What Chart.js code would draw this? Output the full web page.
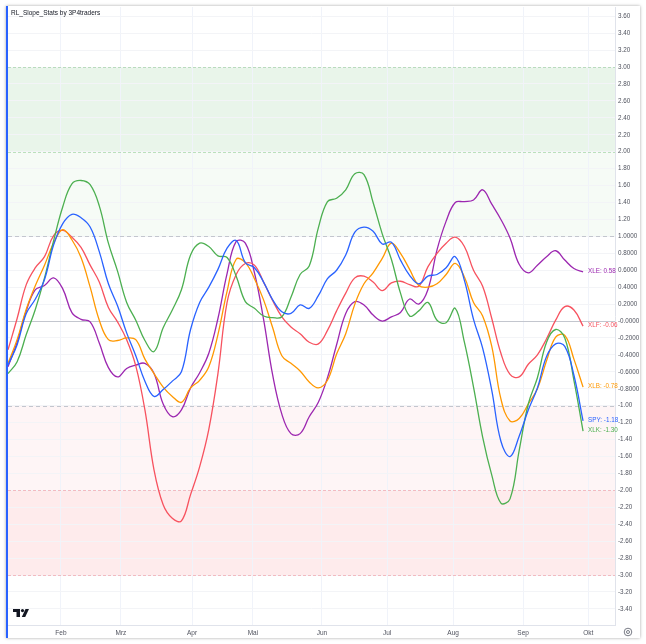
<!DOCTYPE html>
<html>
<head>
<meta charset="utf-8">
<script src="https://cdn.jsdelivr.net/npm/chart.js@4/dist/chart.umd.min.js"></script>
<style>
  body { margin: 0; background: #fff; }
  .caixa {
    position: absolute; left: 6px; top: 6px;
    width: 632px; height: 632px;
    border-left: 2px solid #2962ff;
    box-shadow: 0 0 3px rgba(0,0,0,0.35);
    background: #fff;
  }
</style>
</head>
<body>
<div class="caixa"><canvas id="grafico" width="632" height="632"></canvas></div>
<script>
// -------- DADOS --------

const titulo = "RL_Slope_Stats by 3P4traders";
const tickers = ["SPY", "XLK", "XLB", "XLF", "XLE"];
const cores = ["#2962ff", "#4caf50", "#ff9800", "#f7525f", "#9c27b0"];

// meses (posição em barras)
const meses = ["Feb", "Mrz", "Apr", "Mai", "Jun", "Jul", "Aug", "Sep", "Okt"];
const mesesPos = [17.4, 37.1, 60.5, 80.5, 103.2, 124.6, 146.3, 169.3, 190.7];

// uma amostra a cada 3 barras
const barras = [];
for (let b = 0; b <= 189; b += 3) barras.push(b);

const spy = [-0.52,-0.28,0.09,0.26,0.49,0.90,1.15,1.26,1.22,1.11,0.82,0.44,0.18,-0.14,-0.41,-0.71,
  -0.89,-0.81,-0.71,-0.60,-0.10,0.22,0.40,0.61,0.86,0.95,0.69,0.63,0.46,0.25,0.11,0.09,
  0.19,0.15,0.30,0.50,0.60,0.78,1.05,1.11,1.06,0.91,0.93,0.72,0.54,0.44,0.53,0.55,
  0.63,0.76,0.48,0.02,-0.32,-0.82,-1.42,-1.60,-1.36,-1.05,-0.79,-0.42,-0.27,-0.30,-0.64,-1.18];

const xlk = [-0.62,-0.48,-0.16,0.14,0.51,0.95,1.35,1.62,1.66,1.61,1.36,0.92,0.59,0.22,0.01,-0.23,
  -0.36,-0.08,0.13,0.37,0.78,0.92,0.88,0.77,0.75,0.53,0.23,0.15,0.06,0.04,0.05,0.28,
  0.55,0.65,1.10,1.41,1.45,1.55,1.74,1.73,1.40,1.03,0.73,0.33,0.06,0.12,0.22,0.01,
  -0.02,0.15,-0.25,-0.78,-1.37,-1.82,-2.15,-2.10,-1.53,-0.98,-0.67,-0.25,-0.10,-0.20,-0.70,-1.30];

const xlb = [-0.50,-0.22,0.14,0.42,0.66,0.92,1.08,0.96,0.75,0.40,0.01,-0.22,-0.23,-0.20,-0.22,-0.45,
  -0.62,-0.78,-0.89,-0.96,-0.79,-0.70,-0.54,-0.16,0.35,0.73,0.69,0.50,0.25,-0.08,-0.41,-0.50,
  -0.59,-0.72,-0.79,-0.70,-0.39,-0.15,0.20,0.44,0.57,0.74,0.92,0.80,0.61,0.42,0.40,0.44,
  0.55,0.68,0.52,0.22,0.06,-0.30,-0.92,-1.18,-1.15,-0.98,-0.80,-0.47,-0.19,-0.17,-0.45,-0.78];

const xlf = [-0.34,0.03,0.43,0.63,0.76,1.01,1.07,0.99,0.87,0.66,0.46,0.16,-0.01,-0.22,-0.53,-1.05,
  -1.76,-2.17,-2.33,-2.36,-2.05,-1.72,-1.28,-0.62,0.22,0.55,0.68,0.66,0.46,0.24,0.05,-0.07,
  -0.15,-0.25,-0.27,-0.11,0.12,0.33,0.51,0.53,0.46,0.36,0.45,0.47,0.43,0.41,0.64,0.80,
  0.92,0.99,0.88,0.60,0.41,0.03,-0.38,-0.63,-0.66,-0.51,-0.40,-0.21,0.01,0.17,0.13,-0.06];

const xle = [-0.54,-0.25,0.12,0.37,0.42,0.51,0.38,0.10,0.02,-0.01,-0.26,-0.55,-0.66,-0.56,-0.52,-0.50,
  -0.62,-0.98,-1.13,-1.05,-0.79,-0.61,-0.38,0.03,0.56,0.94,0.92,0.57,0.02,-0.64,-1.10,-1.33,
  -1.33,-1.13,-0.96,-0.67,-0.28,0.09,0.23,0.19,0.07,0.00,0.05,0.10,0.26,0.20,0.37,0.84,
  1.18,1.40,1.41,1.43,1.55,1.38,1.20,0.98,0.67,0.57,0.66,0.76,0.83,0.72,0.62,0.58];

const series = [spy, xlk, xlb, xlf, xle];

// ticks do eixo y
const yTicks = [];
for (let i = 36; i >= -34; i -= 2) yTicks.push(i / 10);

// faixas coloridas e linhas de nível
const faixas = [
  { de: 2, ate: 3, cor: "rgba(76,175,80,0.12)" },
  { de: 1, ate: 2, cor: "rgba(76,175,80,0.05)" },
  { de: -2, ate: -1, cor: "rgba(242,54,69,0.05)" },
  { de: -3, ate: -2, cor: "rgba(242,54,69,0.10)" }
];
const niveis = [
  { v: 3, cor: "rgba(76,175,80,0.35)", tracejado: [3, 2] },
  { v: 2, cor: "rgba(76,175,80,0.35)", tracejado: [3, 2] },
  { v: 1, cor: "#c3c6ce", tracejado: [4, 3] },
  { v: 0, cor: "#c3c6ce", tracejado: [] },
  { v: -1, cor: "#c3c6ce", tracejado: [4, 3] },
  { v: -2, cor: "rgba(242,54,69,0.3)", tracejado: [3, 2] },
  { v: -3, cor: "rgba(242,54,69,0.3)", tracejado: [3, 2] }
];

const fonte = "Liberation Sans, Arial, sans-serif";

// -------- PLUGIN --------

const extras = {
  id: "extras",
  beforeDraw(chart) {
    const { ctx, chartArea: a, scales: { y } } = chart;
    ctx.save();
    faixas.forEach(f => {
      const y1 = y.getPixelForValue(f.de);
      const y2 = y.getPixelForValue(f.ate);
      ctx.fillStyle = f.cor;
      ctx.fillRect(a.left, y2, a.right - a.left, y1 - y2);
    });
    ctx.restore();
  },
  beforeDatasetsDraw(chart) {
    const { ctx, chartArea: a, scales: { y } } = chart;
    ctx.save();
    ctx.lineWidth = 1;
    niveis.forEach(n => {
      const py = Math.round(y.getPixelForValue(n.v)) + 0.5;
      ctx.strokeStyle = n.cor;
      ctx.setLineDash(n.tracejado);
      ctx.beginPath();
      ctx.moveTo(a.left, py);
      ctx.lineTo(a.right, py);
      ctx.stroke();
    });
    ctx.restore();
  },
  afterDatasetsDraw(chart) {
    const { ctx, chartArea: a } = chart;
    ctx.save();

    // rótulos no fim das linhas
    ctx.font = "6.3px " + fonte;
    ctx.textBaseline = "middle";
    chart.data.datasets.forEach((ds, i) => {
      const meta = chart.getDatasetMeta(i);
      const p = meta.data[meta.data.length - 1];
      const ultimo = series[i][series[i].length - 1];
      ctx.fillStyle = ds.borderColor;
      ctx.fillText(ds.label + ": " + ultimo.toFixed(2), p.x + 5, p.y - 1);
    });

    // título
    ctx.fillStyle = "#131722";
    ctx.font = "6.5px " + fonte;
    ctx.textBaseline = "middle";
    ctx.fillText(titulo, a.left + 3, a.top + 6);

    // logo
    const lx = a.left + 5, ly = a.bottom - 16;
    ctx.fillStyle = "#131722";
    ctx.fillRect(lx, ly, 7, 3);
    ctx.fillRect(lx + 3.5, ly, 3.5, 8);
    ctx.beginPath();
    ctx.arc(lx + 9.5, ly + 1.6, 1.6, 0, Math.PI * 2);
    ctx.fill();
    ctx.beginPath();
    ctx.moveTo(lx + 12.5, ly);
    ctx.lineTo(lx + 16, ly);
    ctx.lineTo(lx + 12.2, ly + 8);
    ctx.lineTo(lx + 8.8, ly + 8);
    ctx.closePath();
    ctx.fill();

    // ícone de configuração
    const gx = a.right + 13, gy = a.bottom + 7;
    ctx.strokeStyle = "#6a6d78";
    ctx.lineWidth = 0.9;
    ctx.beginPath();
    ctx.arc(gx, gy, 3.8, 0, Math.PI * 2);
    ctx.stroke();
    ctx.beginPath();
    ctx.arc(gx, gy, 1.5, 0, Math.PI * 2);
    ctx.stroke();

    ctx.restore();
  }
};

// -------- GRÁFICO --------

new Chart(document.getElementById("grafico"), {
  type: "line",
  data: {
    datasets: series.map((s, i) => ({
      label: tickers[i],
      data: s.map((v, j) => ({ x: barras[j], y: v })),
      borderColor: cores[i],
      borderWidth: 1.3,
      pointRadius: 0,
      tension: 0.4,
      fill: false
    }))
  },
  options: {
    responsive: false,
    animation: false,
    layout: { padding: { top: 1, left: 0, right: 0, bottom: 0 } },
    plugins: {
      legend: { display: false },
      tooltip: { enabled: false }
    },
    scales: {
      x: {
        type: "linear",
        min: 0,
        max: 199.5,
        grid: { color: "#f0f3fa", drawTicks: false },
        border: { color: "#e0e3eb" },
        afterBuildTicks: axis => { axis.ticks = mesesPos.map(v => ({ value: v })); },
        afterFit: axis => { axis.height = 13; axis.paddingLeft = 0; axis.paddingRight = 0; },
        ticks: {
          padding: 4,
          maxRotation: 0,
          autoSkip: false,
          color: "#50535e",
          font: { size: 6.5, family: fonte },
          callback: (v, i) => meses[i]
        }
      },
      y: {
        position: "right",
        min: -3.59,
        max: 3.709,
        grid: { color: "#f3f4f7", drawTicks: false },
        border: { color: "#e0e3eb" },
        afterBuildTicks: axis => { axis.ticks = yTicks.map(v => ({ value: v })); },
        afterFit: axis => { axis.width = 25; axis.paddingTop = 0; axis.paddingBottom = 0; },
        ticks: {
          padding: 3,
          color: "#50535e",
          font: { size: 6.3, family: fonte },
          callback: v => {
            if (Math.abs(v) < 1e-9) return "-0.0000";
            if (v > -1 && v <= 1) return v.toFixed(4);
            return v.toFixed(2);
          }
        }
      }
    }
  },
  plugins: [extras]
});
</script>
</body>
</html>
